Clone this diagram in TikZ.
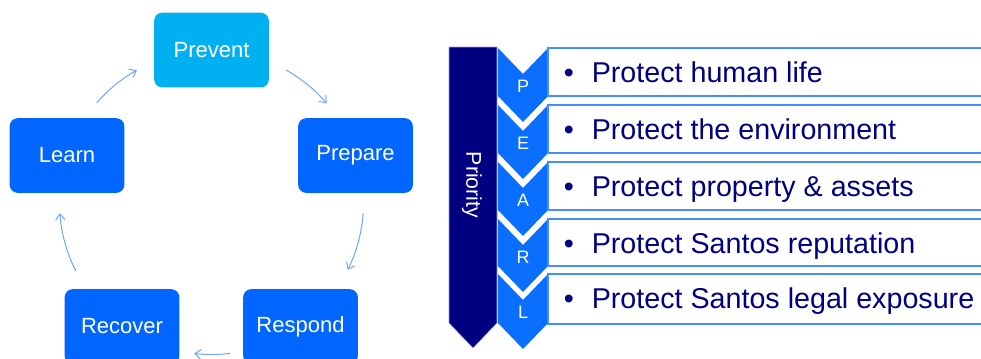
\documentclass[tikz,border=0pt]{standalone}
\usepackage{fontspec}
\setmainfont{Liberation Sans}
\usetikzlibrary{arrows.meta}
\definecolor{cycblue}{RGB}{0,102,255}
\definecolor{cyccyan}{RGB}{0,176,240}
\definecolor{chevblue}{RGB}{10,110,255}
\definecolor{navyblue}{RGB}{0,0,128}
\definecolor{rimblue}{RGB}{70,140,255}
\definecolor{arcblue}{RGB}{110,165,255}
\tikzset{
  cycbox/.style={rounded corners=6pt, fill=cycblue, text=white, minimum width=86pt, minimum height=56pt, inner sep=0.75pt, font=\fontsize{16.5}{18}\selectfont},
  cycarrow/.style={draw=arcblue, line width=0.75pt, -{Straight Barb[length=4.5pt,width=7pt]}},
  chevron/.style={fill=chevblue},
  goalbox/.style={draw=rimblue, line width=1.2pt},
  goaltext/.style={anchor=base west, inner sep=0pt, text=navyblue, font=\fontsize{21.5}{24}\selectfont},
  pearl/.style={inner sep=0.75pt, text=white, font=\fontsize{13.5}{15}\selectfont}
}
\begin{document}
\begin{tikzpicture}[x=0.75pt,y=0.75pt,yscale=-1,xscale=1]
    \useasboundingbox (0,0) rectangle (981,358);

    %Shape: Cycle boxes
    \node [cycbox, fill=cyccyan] (prevent) at (211.5,50) {Prevent};
    \node [cycbox] (prepare) at (355.5,155.5) {Prepare};
    \node [cycbox] (respond) at (300.5,326.5) {Respond};
    \node [cycbox] (recover) at (122,326.5) {Recover};
    \node [cycbox] (learn) at (67,155.5) {Learn};

    %Shape: Arcs between the boxes
    \coordinate (hub) at (211.5,202.5);
    \draw [cycarrow] ([shift={(-60.6:152)}]hub) arc [start angle=-60.6, end angle=-40.7, radius=152];
    \draw [cycarrow] ([shift={(4:152)}]hub) arc [start angle=4, end angle=26.3, radius=152];
    \draw [cycarrow] ([shift={(83:152)}]hub) arc [start angle=83, end angle=96.6, radius=152];
    \draw [cycarrow] ([shift={(153.2:152)}]hub) arc [start angle=153.2, end angle=176, radius=152];
    \draw [cycarrow] ([shift={(-139:152)}]hub) arc [start angle=-139, end angle=-119.4, radius=152];

    %Shape: Priority arrow
    \draw [fill=navyblue, draw={rgb,255:red,150;green,165;blue,230}, line width=0.4pt] (449,47) -- (497,47) -- (497,323) -- (473,348) -- (449,323) -- cycle ;
    % Text Node
    \node [rotate=-90, inner sep=0.75pt, text=white, font=\fontsize{16}{18}\selectfont] (priority) at (472,185) {Priority};

    %Shape: Chevrons
    \fill [chevron] (498,48) -- (523,74) -- (548,48) -- (548,96) -- (523,122) -- (498,96) -- cycle ;
    \fill [chevron] (498,105) -- (523,131) -- (548,105) -- (548,153) -- (523,179) -- (498,153) -- cycle ;
    \fill [chevron] (498,162) -- (523,188) -- (548,162) -- (548,210) -- (523,236) -- (498,210) -- cycle ;
    \fill [chevron] (498,219) -- (523,245) -- (548,219) -- (548,266) -- (523,292) -- (498,266) -- cycle ;
    \fill [chevron] (498,274) -- (523,300) -- (548,274) -- (548,323) -- (523,349) -- (498,323) -- cycle ;
    % Text Node
    \node [pearl] (p) at (523,86.5) {P};
    \node [pearl] (e) at (523,143.5) {E};
    \node [pearl] (a) at (523,200.5) {A};
    \node [pearl] (r) at (523,257.5) {R};
    \node [pearl] (l) at (523,312.5) {L};

    %Shape: Goal boxes (open to the right)
    \draw [goalbox] (1005,48) -- (548,48) -- (548,96) -- (1005,96) ;
    \draw [goalbox] (1005,105) -- (548,105) -- (548,153) -- (1005,153) ;
    \draw [goalbox] (1005,162) -- (548,162) -- (548,210) -- (1005,210) ;
    \draw [goalbox] (1005,219) -- (548,219) -- (548,266) -- (1005,266) ;
    \draw [goalbox] (1005,274) -- (548,274) -- (548,324) -- (1005,324) ;
    % Text Node
    \node [goaltext] (life) at (563.5,82) {•\hspace*{13.5pt}Protect human life};
    \node [goaltext] (environment) at (563.5,139) {•\hspace*{13.5pt}Protect the environment};
    \node [goaltext] (property) at (563.5,196) {•\hspace*{13.5pt}Protect property \& assets};
    \node [goaltext] (reputation) at (563.5,253) {•\hspace*{13.5pt}Protect Santos reputation};
    \node [goaltext] (legal) at (563.5,308) {•\hspace*{13.5pt}Protect Santos legal exposure};

\end{tikzpicture}
\end{document}
